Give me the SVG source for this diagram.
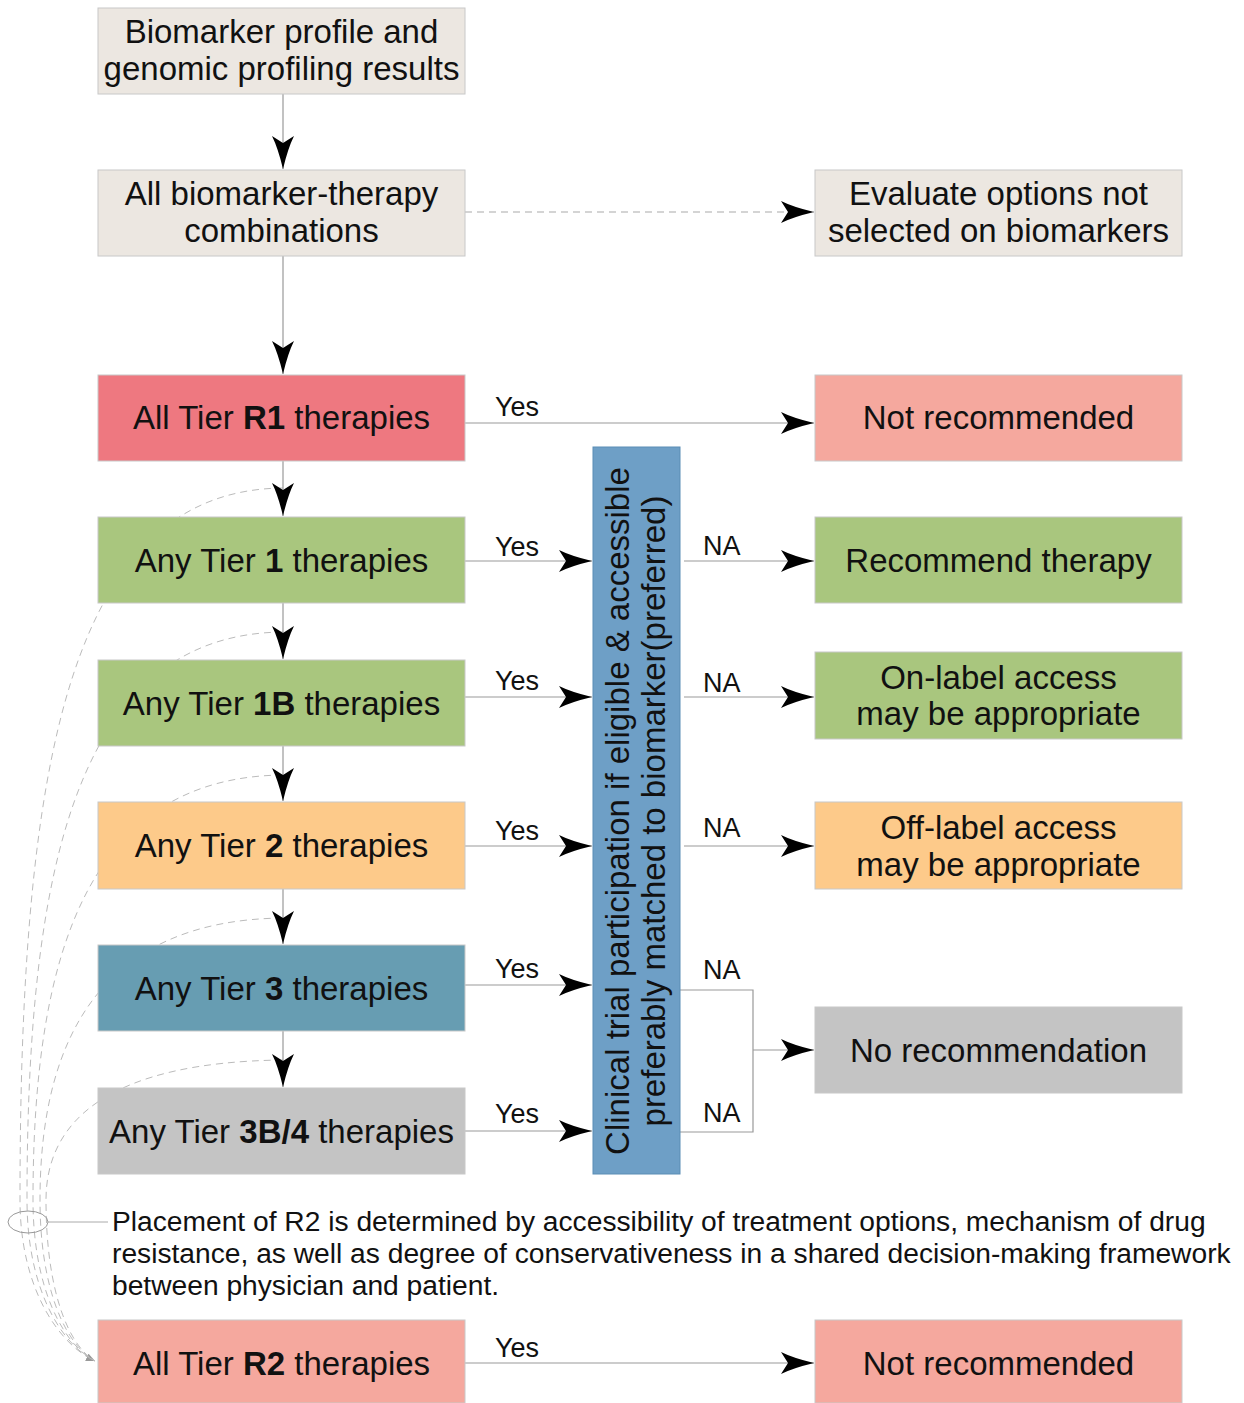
<svg xmlns="http://www.w3.org/2000/svg" width="1244" height="1403" viewBox="0 0 1244 1403">
<style>
.box{stroke:#c8c8c8;stroke-width:1}
.t{font-family:"Liberation Sans",Arial,sans-serif;font-size:33px;fill:#111;text-anchor:middle}
.lbl{font-family:"Liberation Sans",Arial,sans-serif;font-size:27px;fill:#111}
.p{font-family:"Liberation Sans",Arial,sans-serif;font-size:28.2px;fill:#111}
.c{stroke:#999;stroke-width:1.2;fill:none}
.d{stroke:#aaa;stroke-width:1.2;fill:none;stroke-dasharray:7 5}
.cv{stroke:#bbb;stroke-width:1;fill:none;stroke-dasharray:7 5}
.beige{fill:#ece7e1}
.red{fill:#ee7880}
.pink{fill:#f5a89e}
.green{fill:#a9c67e}
.orange{fill:#fdca8a}
.teal{fill:#679db2}
.grey{fill:#c4c4c4}
</style>
<defs>
<marker id="ah" markerUnits="userSpaceOnUse" markerWidth="34" markerHeight="24" refX="33" refY="12" orient="auto">
<path d="M0,1 Q12,7 33,12 Q12,17 0,23 L7,12 Z" fill="#000"/>
</marker>
<marker id="sah" markerUnits="userSpaceOnUse" markerWidth="10" markerHeight="8" refX="9" refY="4" orient="auto">
<path d="M0,0 L9,4 L0,8 Z" fill="#999"/>
</marker>
</defs>

<g id="curves">
<path class="cv" d="M283,488 C70,490 20,760 20,1200 C20,1290 60,1345 95,1361" marker-end="url(#sah)"/>
<path class="cv" d="M283,632 C80,634 27,860 27,1200 C27,1290 62,1345 95,1361"/>
<path class="cv" d="M283,775 C90,777 33,950 33,1200 C33,1290 64,1345 95,1361"/>
<path class="cv" d="M283,918 C100,920 40,1040 40,1200 C40,1290 66,1345 95,1361"/>
<path class="cv" d="M283,1060 C110,1062 46,1120 46,1200 C46,1290 68,1345 95,1361"/>
</g>

<g id="connectors">
<line class="c" x1="283" y1="94" x2="283" y2="169" marker-end="url(#ah)"/>
<line class="c" x1="283" y1="256" x2="283" y2="374" marker-end="url(#ah)"/>
<line class="c" x1="283" y1="461" x2="283" y2="516" marker-end="url(#ah)"/>
<line class="c" x1="283" y1="603" x2="283" y2="659" marker-end="url(#ah)"/>
<line class="c" x1="283" y1="746" x2="283" y2="801" marker-end="url(#ah)"/>
<line class="c" x1="283" y1="889" x2="283" y2="944" marker-end="url(#ah)"/>
<line class="c" x1="283" y1="1031" x2="283" y2="1087" marker-end="url(#ah)"/>
<line class="d" x1="465" y1="212" x2="814" y2="212" marker-end="url(#ah)"/>
<line class="c" x1="465" y1="423" x2="814" y2="423" marker-end="url(#ah)"/>
<line class="c" x1="465" y1="561" x2="592" y2="561" marker-end="url(#ah)"/>
<line class="c" x1="465" y1="697" x2="592" y2="697" marker-end="url(#ah)"/>
<line class="c" x1="465" y1="846" x2="592" y2="846" marker-end="url(#ah)"/>
<line class="c" x1="465" y1="985" x2="592" y2="985" marker-end="url(#ah)"/>
<line class="c" x1="465" y1="1131" x2="592" y2="1131" marker-end="url(#ah)"/>
<line class="c" x1="684" y1="561" x2="814" y2="561" marker-end="url(#ah)"/>
<line class="c" x1="684" y1="697" x2="814" y2="697" marker-end="url(#ah)"/>
<line class="c" x1="684" y1="846" x2="814" y2="846" marker-end="url(#ah)"/>
<polyline class="c" points="680,990 753,990 753,1132 680,1132"/>
<line class="c" x1="753" y1="1050" x2="814" y2="1050" marker-end="url(#ah)"/>
<line class="c" x1="465" y1="1363" x2="814" y2="1363" marker-end="url(#ah)"/>
<ellipse cx="28" cy="1222" rx="20" ry="11" fill="none" stroke="#999" stroke-width="1"/>
<line x1="48" y1="1222" x2="108" y2="1222" stroke="#aaa" stroke-width="1"/>
<text class="lbl" x="495" y="416">Yes</text>
<text class="lbl" x="495" y="556">Yes</text>
<text class="lbl" x="495" y="690">Yes</text>
<text class="lbl" x="495" y="840">Yes</text>
<text class="lbl" x="495" y="978">Yes</text>
<text class="lbl" x="495" y="1123">Yes</text>
<text class="lbl" x="495" y="1357">Yes</text>
<text class="lbl" x="703" y="555">NA</text>
<text class="lbl" x="703" y="692">NA</text>
<text class="lbl" x="703" y="837">NA</text>
<text class="lbl" x="703" y="979">NA</text>
<text class="lbl" x="703" y="1122">NA</text>
</g>

<g id="n-biomarker"><rect class="box beige" x="98" y="8" width="367" height="86"/>
<text class="t" x="281.5" y="43">Biomarker profile and</text><text class="t" x="281.5" y="80">genomic profiling results</text></g>
<g id="n-combos"><rect class="box beige" x="98" y="170" width="367" height="86"/>
<text class="t" x="281.5" y="205">All biomarker-therapy</text><text class="t" x="281.5" y="242">combinations</text></g>
<g id="n-evaluate"><rect class="box beige" x="815" y="170" width="367" height="86"/>
<text class="t" x="998.5" y="205">Evaluate options not</text><text class="t" x="998.5" y="242">selected on biomarkers</text></g>
<g id="n-r1"><rect class="box red" x="98" y="375" width="367" height="86"/>
<text class="t" x="281.5" y="429">All Tier <tspan font-weight="bold">R1</tspan> therapies</text></g>
<g id="n-notrec1"><rect class="box pink" x="815" y="375" width="367" height="86"/>
<text class="t" x="998.5" y="429">Not recommended</text></g>
<g id="n-t1"><rect class="box green" x="98" y="517" width="367" height="86"/>
<text class="t" x="281.5" y="572">Any Tier <tspan font-weight="bold">1</tspan> therapies</text></g>
<g id="n-recommend"><rect class="box green" x="815" y="517" width="367" height="86"/>
<text class="t" x="998.5" y="572">Recommend therapy</text></g>
<g id="n-t1b"><rect class="box green" x="98" y="660" width="367" height="86"/>
<text class="t" x="281.5" y="715">Any Tier <tspan font-weight="bold">1B</tspan> therapies</text></g>
<g id="n-onlabel"><rect class="box green" x="815" y="652" width="367" height="87"/>
<text class="t" x="998.5" y="689">On-label access</text><text class="t" x="998.5" y="725">may be appropriate</text></g>
<g id="n-t2"><rect class="box orange" x="98" y="802" width="367" height="87"/>
<text class="t" x="281.5" y="857">Any Tier <tspan font-weight="bold">2</tspan> therapies</text></g>
<g id="n-offlabel"><rect class="box orange" x="815" y="802" width="367" height="87"/>
<text class="t" x="998.5" y="839">Off-label access</text><text class="t" x="998.5" y="876">may be appropriate</text></g>
<g id="n-t3"><rect class="box teal" x="98" y="945" width="367" height="86"/>
<text class="t" x="281.5" y="1000">Any Tier <tspan font-weight="bold">3</tspan> therapies</text></g>
<g id="n-norec"><rect class="box grey" x="815" y="1007" width="367" height="86"/>
<text class="t" x="998.5" y="1062">No recommendation</text></g>
<g id="n-t3b4"><rect class="box grey" x="98" y="1088" width="367" height="86"/>
<text class="t" x="281.5" y="1143">Any Tier <tspan font-weight="bold">3B/4</tspan> therapies</text></g>
<g id="n-trial"><rect x="593" y="447" width="87" height="727" fill="#6e9fc6" stroke="#5b8db5" stroke-width="1"/>
<text class="t" transform="translate(629,811) rotate(-90)" x="0" y="0">Clinical trial participation if eligible &amp; accessible</text>
<text class="t" transform="translate(665,811) rotate(-90)" x="0" y="0">preferably matched to biomarker(preferred)</text></g>
<g id="n-note"><text class="p" x="112" y="1231">Placement of R2 is determined by accessibility of treatment options, mechanism of drug</text>
<text class="p" x="112" y="1263">resistance, as well as degree of conservativeness in a shared decision-making framework</text>
<text class="p" x="112" y="1295">between physician and patient.</text></g>
<g id="n-r2"><rect class="box pink" x="98" y="1320" width="367" height="83"/>
<text class="t" x="281.5" y="1375">All Tier <tspan font-weight="bold">R2</tspan> therapies</text></g>
<g id="n-notrec2"><rect class="box pink" x="815" y="1320" width="367" height="83"/>
<text class="t" x="998.5" y="1375">Not recommended</text></g>
</svg>
